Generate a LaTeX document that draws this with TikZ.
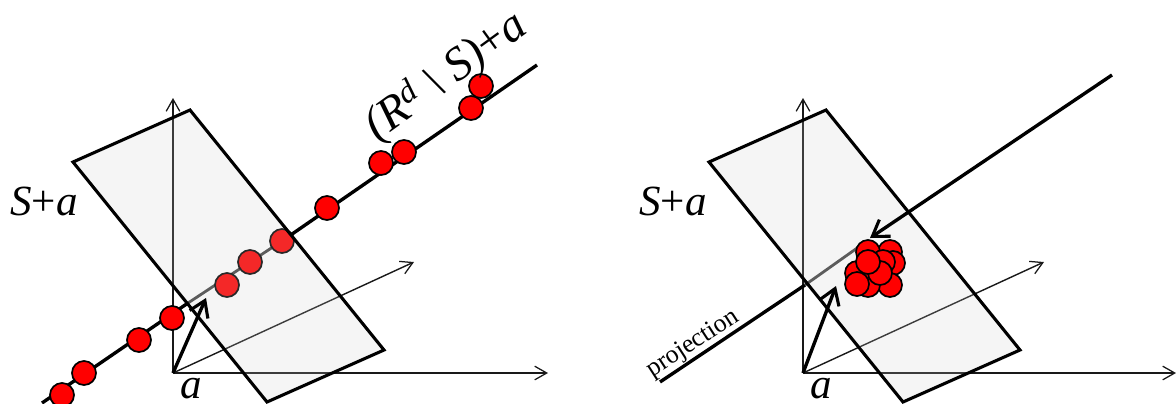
\documentclass[tikz,border=0pt]{standalone}
\usepackage{fontspec}
\setmainfont{Liberation Serif}
\usetikzlibrary{arrows.meta}

\begin{document}
\begin{tikzpicture}[
    x=0.025cm, y=-0.025cm,
    axis/.style={-{Straight Barb[length=3mm,width=3.4mm,line width=0.9pt]}, line width=1pt, black!90},
    plane/.style={draw=black, line width=2.2pt, line join=miter, fill=black!20, fill opacity=0.2},
    vector/.style={-{Straight Barb[length=3.8mm,width=5mm,line width=2.2pt]}, line width=2.4pt},
    ray/.style={line width=2.4pt},
    rayInner/.style={line width=2pt, black!75},
    sample/.style={circle, draw=black, line width=1.2pt, fill=red, minimum size=0.6cm, inner sep=0pt},
    bigLabel/.style={font=\fontsize{30.6}{32}\selectfont, inner sep=0pt}
]
\useasboundingbox (0,0) rectangle (1176,403);

% ============== Left: points on the line ==============
\coordinate (o1) at (173,373);
\coordinate (o1up) at (173,98);
\coordinate (o1right) at (548,373);
\coordinate (o1diag) at (414,262);
\coordinate (tip1) at (206,298);
\coordinate (rayA) at (42,403);
\coordinate (rayB) at (188,303);
\coordinate (rayC) at (282,241);
\coordinate (rayD) at (537,65);

\draw[axis] (o1) -- (o1up);
\draw[axis] (o1) -- (o1right);
\draw[axis] (o1) -- (o1diag);
\draw[ray] (rayA) -- (rayB);
\draw[rayInner] (rayB) -- (rayC);
\draw[ray] (rayC) -- (rayD);

\foreach \x/\y [count=\i] in {62/395, 84/373, 139/340, 172/318, 227/285, 250/262, 282/241, 327/208, 381/163, 404/152, 471/108, 481/86}
    \node[sample] (left\i) at (\x,\y) {};

\draw[plane] (190,110) -- (384,350) -- (267,402) -- (73,162) -- cycle;
\draw[vector] (o1) -- (tip1);

\node[bigLabel] (sa1) at (44,201) {\textit{S}+\textit{a}};
\node[bigLabel] (a1) at (191,389) {\textit{a}};
\node[bigLabel, rotate=36, font=\fontsize{33.5}{35}\selectfont] (comp) at (446,76) {\textit{(R\textsuperscript{d} \textbackslash{} S)}+\textit{a}};

% ============== Right: points after projection ==============
\coordinate (o2) at (803,373);
\coordinate (o2up) at (803,98);
\coordinate (o2right) at (1176,373);
\coordinate (o2diag) at (1044,262);
\coordinate (tip2) at (836,286);
\coordinate (projA) at (660,382);
\coordinate (projB) at (805,285);
\coordinate (projC) at (860,246);
\coordinate (projD) at (1112,75);
\coordinate (projE) at (870,238);

\draw[axis] (o2) -- (o2up);
\draw[axis] (o2) -- (o2right);
\draw[axis] (o2) -- (o2diag);
\draw[ray] (projA) -- (projB);
\draw[rayInner] (projB) -- (projC);

\draw[plane] (826,110) -- (1020,350) -- (903,402) -- (709,162) -- cycle;
\draw[vector] (o2) -- (tip2);

\foreach \x/\y [count=\i] in {890/252, 868/252, 893/263, 883/262, 890/285, 857/273, 868/285, 880/273, 857/284, 868/262}
    \node[sample] (right\i) at (\x,\y) {};

\draw[vector] (projD) -- (projE);

\node[bigLabel] (sa2) at (673,201) {\textit{S}+\textit{a}};
\node[bigLabel] (a2) at (821,389) {\textit{a}};
\node[rotate=33, inner sep=0pt, font=\fontsize{18.4}{20}\selectfont] (proj) at (693,344) {projection};
\end{tikzpicture}
\end{document}
